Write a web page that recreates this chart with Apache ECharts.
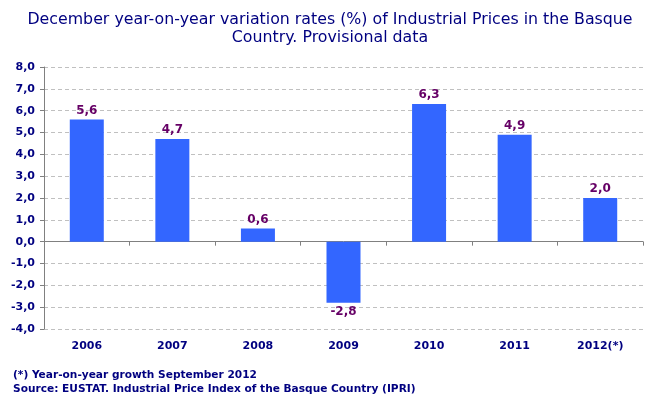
<!DOCTYPE html>
<html>
<head>
<meta charset="utf-8">
<script src="https://cdn.jsdelivr.net/npm/echarts@6/dist/echarts.min.js"></script>
<style>
  html, body { margin: 0; padding: 0; background: #fff; }
  #chart { width: 650px; height: 415px; }
</style>
</head>
<body>
<div id="chart"></div>
<script>
// chart data
var years = ['2006', '2007', '2008', '2009', '2010', '2011', '2012(*)'];
var rates = [5.6, 4.7, 0.6, -2.8, 6.3, 4.9, 2.0];
var yTicks = { min: -4, max: 8, step: 1 };

var navy = '#000080';
var font = 'DejaVu Sans';

function comma(v) {
  return Number(v).toFixed(1).replace('.', ',');
}

var myChart = echarts.init(document.getElementById('chart'));

// negative bars get their label underneath
var barData = rates.map(function (v) {
  return { value: v, label: { position: v < 0 ? 'bottom' : 'top' } };
});

var option = {
  backgroundColor: '#fff',
  animation: false,
  title: [
    {
      text: 'December year-on-year variation rates (%) of Industrial Prices in the Basque\nCountry. Provisional data',
      left: 325,
      top: 6,
      textAlign: 'center',
      textStyle: { color: navy, fontFamily: font, fontSize: 15.8, fontWeight: 'normal', lineHeight: 18 }
    },
    {
      text: '(*) Year-on-year growth September 2012\nSource: EUSTAT. Industrial Price Index of the Basque Country (IPRI)',
      left: 8,
      top: 363,
      textStyle: { color: navy, fontFamily: font, fontSize: 10.6, fontWeight: 'bold', lineHeight: 14 }
    }
  ],
  grid: { left: 44, right: 7, top: 67, bottom: 86 },
  xAxis: [
    {
      type: 'category',
      data: years,
      axisLine: { onZero: true, lineStyle: { color: '#808080', width: 1 } },
      axisTick: { show: true, length: 4, lineStyle: { color: '#808080' } },
      axisLabel: { show: false }
    },
    {
      type: 'category',
      data: years,
      position: 'bottom',
      axisLine: { show: false, onZero: false },
      axisTick: { show: false },
      axisLabel: { color: navy, fontFamily: font, fontSize: 11, fontWeight: 'bold', margin: 12 }
    }
  ],
  yAxis: {
    type: 'value',
    min: yTicks.min,
    max: yTicks.max,
    interval: yTicks.step,
    axisLine: { show: true, lineStyle: { color: '#808080' } },
    axisTick: { show: true, length: 4, lineStyle: { color: '#808080' } },
    axisLabel: {
      color: navy, fontFamily: font, fontSize: 11, fontWeight: 'bold', margin: 9,
      formatter: comma
    },
    splitLine: { lineStyle: { color: '#c0c0c0', type: [4, 3] } }
  },
  series: [
    {
      type: 'bar',
      data: barData,
      barWidth: 34,
      itemStyle: { color: '#3366ff' },
      label: {
        show: true,
        color: '#660066',
        fontFamily: font,
        fontSize: 12,
        fontWeight: 'bold',
        distance: 3,
        formatter: function (p) { return comma(p.value); }
      }
    }
  ]
};

myChart.setOption(option);
</script>
</body>
</html>
